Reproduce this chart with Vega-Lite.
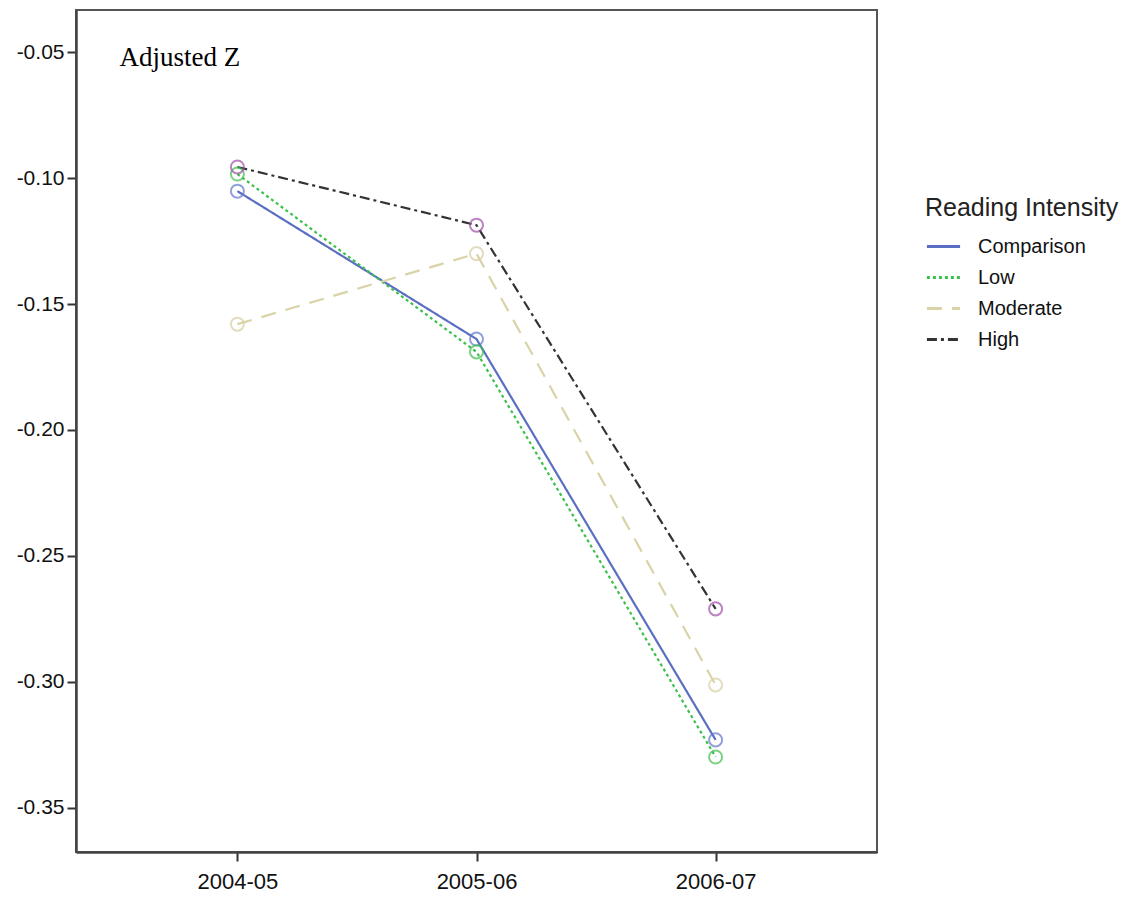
{
  "$schema": "https://vega.github.io/schema/vega-lite/v6.json",
  "width": 801,
  "height": 842,
  "autosize": {"type": "none"},
  "padding": {"left": 76, "top": 10, "right": 260, "bottom": 45},
  "background": "white",
  "config": {
    "view": {"stroke": "#555", "strokeWidth": 2},
    "font": "Liberation Sans"
  },
  "datasets": {
    "series": [
      {"year": "2004-05", "group": "Comparison", "z": -0.1052},
      {"year": "2005-06", "group": "Comparison", "z": -0.1639},
      {"year": "2006-07", "group": "Comparison", "z": -0.3230},
      {"year": "2004-05", "group": "Low", "z": -0.0984},
      {"year": "2005-06", "group": "Low", "z": -0.1690},
      {"year": "2006-07", "group": "Low", "z": -0.3298},
      {"year": "2004-05", "group": "Moderate", "z": -0.1580},
      {"year": "2005-06", "group": "Moderate", "z": -0.1300},
      {"year": "2006-07", "group": "Moderate", "z": -0.3012},
      {"year": "2004-05", "group": "High", "z": -0.0956},
      {"year": "2005-06", "group": "High", "z": -0.1187},
      {"year": "2006-07", "group": "High", "z": -0.2710}
    ],
    "label": [{"text": "Adjusted Z", "year": "2004-05", "z": -0.0524}]
  },
  "layer": [
    {
      "data": {"name": "series"},
      "mark": {"type": "line", "strokeWidth": 2.2},
      "encoding": {
        "x": {
          "field": "year", "type": "ordinal",
          "scale": {"type": "point", "padding": 0.675},
          "axis": {
            "title": null, "labelAngle": 0, "labelFontSize": 22, "labelColor": "#111",
            "tickSize": 9, "tickColor": "#333", "tickWidth": 2, "domainColor": "#444", "domainWidth": 2.5,
            "labelPadding": 10, "grid": false
          }
        },
        "y": {
          "field": "z", "type": "quantitative",
          "scale": {"domain": [-0.3675, -0.0333], "nice": false, "zero": false},
          "axis": {
            "title": null, "values": [-0.05, -0.1, -0.15, -0.2, -0.25, -0.3, -0.35],
            "format": ".2f", "labelExpr": "replace(datum.label, '\u2212', '-')",
            "labelFontSize": 21, "labelColor": "#111",
            "tickSize": 9, "tickColor": "#333", "tickWidth": 2, "domainColor": "#444", "domainWidth": 2.5,
            "labelPadding": 3, "grid": false
          }
        },
        "color": {
          "field": "group", "type": "nominal",
          "scale": {
            "domain": ["Comparison", "Low", "Moderate", "High"],
            "range": ["#5a6fc2", "#3cc04c", "#d9d3a7", "#333333"]
          },
          "legend": {
            "title": "Reading Intensity", "orient": "none", "legendX": 849, "legendY": 186,
            "titleFontSize": 25, "titleFontWeight": "normal", "titleColor": "#222", "titleLimit": 400,
            "labelFontSize": 20, "labelColor": "#111", "symbolSize": 1100, "symbolStrokeWidth": 3,
            "rowPadding": 2, "titlePadding": 7, "labelOffset": 16, "labelLimit": 300
          }
        },
        "strokeDash": {
          "field": "group", "type": "nominal",
          "scale": {
            "domain": ["Comparison", "Low", "Moderate", "High"],
            "range": [[1, 0], [3, 3], [15, 10], [10, 4, 3, 4]]
          },
          "legend": null
        },
        "detail": {"field": "group"}
      }
    },
    {
      "data": {"name": "series"},
      "mark": {"type": "point", "shape": "circle", "size": 170, "strokeWidth": 2, "filled": false},
      "encoding": {
        "x": {"field": "year", "type": "ordinal"},
        "y": {"field": "z", "type": "quantitative"},
        "stroke": {
          "field": "group", "type": "nominal",
          "scale": {
            "domain": ["Comparison", "Low", "Moderate", "High"],
            "range": ["#6578cc", "#40c050", "#d6d0a4", "#a04fa8"]
          },
          "legend": null
        }
      }
    },
    {
      "data": {"name": "label"},
      "mark": {"type": "text", "align": "left", "baseline": "middle", "dx": -118, "font": "Liberation Serif", "fontSize": 27, "color": "#000"},
      "encoding": {
        "x": {"field": "year", "type": "ordinal"},
        "y": {"field": "z", "type": "quantitative"},
        "text": {"field": "text"}
      }
    }
  ]
}
